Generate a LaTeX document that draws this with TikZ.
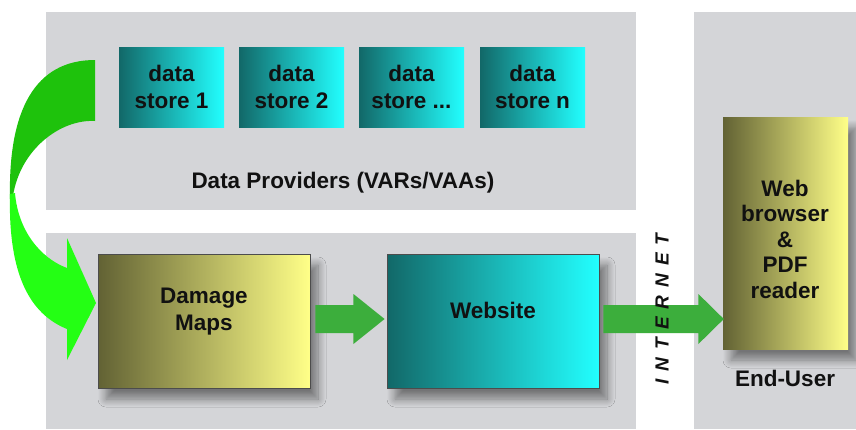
\documentclass[tikz,border=0pt]{standalone}
\usepackage{fontspec}
\setmainfont{Liberation Sans}
\usetikzlibrary{shadows.blur,calc}

\definecolor{panelgray}{RGB}{212,213,216}
\definecolor{tealdark}{RGB}{18,104,104}
\definecolor{tealbright}{RGB}{34,255,255}
\definecolor{olivedark}{RGB}{98,98,52}
\definecolor{paleyellow}{RGB}{255,255,136}
\definecolor{flowgreen}{RGB}{60,174,60}
\definecolor{curvedark}{RGB}{30,194,12}
\definecolor{curvebright}{RGB}{36,255,20}
\definecolor{textdark}{RGB}{17,17,17}

\begin{document}
\begin{tikzpicture}[x=1pt,y=-1pt,
  lbl/.style={font=\fontsize{22.5}{27}\selectfont\bfseries, text=textdark,
    align=center, inner sep=0pt},
  storebox/.style={lbl, left color=tealdark, right color=tealbright,
    minimum width=105pt, minimum height=80pt, draw=none},
  dropshadow/.style={blur shadow={shadow xshift=8pt, shadow yshift=-11pt,
    shadow blur radius=8pt, shadow blur steps=12, shadow opacity=45}},
  mapbox/.style={dropshadow, left color=olivedark, right color=paleyellow,
    draw=black!70, line width=0.8pt, minimum width=212pt, minimum height=134pt,
    inner sep=0pt},
  sitebox/.style={dropshadow, left color=tealdark, right color=tealbright,
    draw=black!70, line width=0.8pt, minimum width=212pt, minimum height=134pt,
    inner sep=0pt},
  userbox/.style={dropshadow, left color=olivedark, right color=paleyellow,
    draw=none, minimum width=125pt, minimum height=232pt, inner sep=0pt},
  flow/.style={fill=flowgreen, draw=none}
]
\useasboundingbox (0,0) rectangle (856,429);
\fill[white] (0,0) rectangle (856,429);

% background panels
\fill[panelgray] (46,12) rectangle (636,210);
\fill[panelgray] (46,233) rectangle (636,429);
\fill[panelgray] (694,12) rectangle (856,429);

% data providers
\node[storebox] (s1) at (171.5,87) {data\\store 1};
\node[storebox] (s2) at (291.5,87) {data\\store 2};
\node[storebox] (s3) at (411.5,87) {data\\store ...};
\node[storebox] (s4) at (532.5,87) {data\\store n};
\node[lbl] (dp) at (343,183) {Data Providers (VARs/VAAs)};

% curved ribbon arrow from the providers down to the damage maps
\coordinate (tailtop) at (95,60);
\coordinate (tailbot) at (95,121);
\fill[curvedark] (tailtop) -- (tailbot)
  .. controls (60,119) and (20,150) .. (13,196)
  -- (10,199)
  .. controls (8,110) and (35,60) .. (tailtop) -- cycle;
\fill[curvebright] (10,194) -- (15,193)
  .. controls (18,230) and (40,258) .. (67,268)
  -- (67,238) -- (96,303) -- (67,360) -- (67,329)
  .. controls (30,314) and (8,275) .. (10,194) -- cycle;

% processing chain
\node[mapbox] (dm) at (204,321) {};
\node[lbl] (dmtext) at (204,312) {Damage\\Maps};
\node[sitebox] (web) at (493,321) {};
\node[lbl] (webtext) at (493,310) {Website};

% end user
\node[userbox] (ub) at (785.5,233) {};
\node[lbl, font=\fontsize{22.5}{25.5}\selectfont\bfseries] (ubtext) at (785,239)
  {Web\\browser\\\&\\PDF\\reader};
\node[lbl] (eu) at (785,378) {End-User};

% flow arrows
\fill[flow] ($(dm.east)+(5,-16)$) -- ++(38,0) -- ++(0,-11)
  -- ($(web.west)+(-2,-2)$) -- ($(dm.east)+(43,23)$) -- ++(0,-11)
  -- ($(dm.east)+(5,12)$) -- cycle;
\fill[flow] ($(web.east)+(4,-16)$) -- ++(95,0) -- ++(0,-11)
  -- ($(web.east -| ub.west)+(1,-2)$) -- ($(web.east)+(99,23)$) -- ++(0,-11)
  -- ($(web.east)+(4,12)$) -- cycle;

\node[font=\fontsize{19}{19}\selectfont\bfseries\itshape, text=textdark,
  rotate=90, inner sep=0pt] (inet) at (662,309)
  {I\kern8pt N\kern8pt T\kern8pt E\kern8pt R\kern8pt N\kern8pt E\kern8pt T};
\end{tikzpicture}
\end{document}
